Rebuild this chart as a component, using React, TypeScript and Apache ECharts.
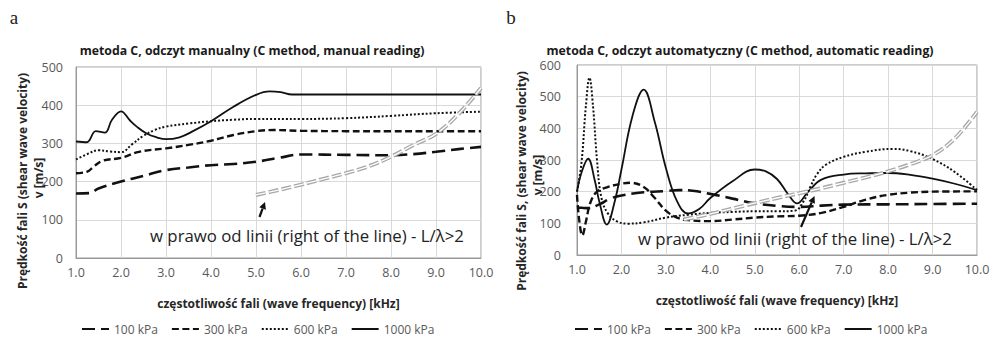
import React, { useEffect, useRef } from "react";
import * as echarts from "echarts";

const seriesNames = ["100 kPa", "300 kPa", "600 kPa", "1000 kPa"];
const xTicks = [1, 2, 3, 4, 5, 6, 7, 8, 9, 10];

// ---- chart a: metoda C, odczyt manualny ----
const aF100 = [1.0, 1.3, 1.5, 2.0, 2.5, 3.0, 3.5, 4.0, 4.5, 5.0, 5.5, 6.0, 7.0, 8.0, 8.5, 9.0, 9.5, 10.0];
const aV100 = [169, 170, 182, 200, 215, 230, 237, 243, 246, 252, 262, 271, 270, 269, 272, 278, 285, 291];

const aF300 = [1.0, 1.25, 1.4, 1.6, 2.0, 2.4, 3.0, 3.5, 4.0, 4.5, 5.0, 5.4, 6.0, 7.0, 8.0, 9.0, 10.0];
const aV300 = [222, 226, 240, 255, 262, 278, 287, 296, 307, 322, 332, 335, 333, 332, 332, 332, 332];

const aF600 = [1.0, 1.25, 1.5, 1.75, 2.0, 2.25, 2.5, 2.75, 3.0, 3.5, 4.0, 4.5, 5.0, 6.0, 7.0, 8.0, 9.0, 10.0];
const aV600 = [258, 272, 282, 279, 277, 298, 320, 335, 344, 352, 358, 362, 364, 364, 366, 372, 379, 383];

const aF1000 = [1.0, 1.24, 1.44, 1.64, 1.8, 2.0, 2.2, 2.35, 2.57, 2.79, 3.0, 3.3, 3.6, 4.0, 4.5, 5.0, 5.3, 5.55, 5.8, 6.0, 7.0, 8.0, 9.0, 10.0];
const aV1000 = [305, 303, 332, 328, 362, 384, 360, 344, 326, 316, 311, 316, 332, 358, 396, 427, 436, 434, 428, 428, 428, 428, 428, 428];

const aFLim = [5.0, 5.5, 6.0, 6.5, 7.0, 7.5, 8.0, 8.5, 9.0, 9.5, 10.0];
const aVLim = [165, 178, 192, 207, 222, 240, 265, 296, 325, 377, 445];

// ---- chart b: metoda C, odczyt automatyczny ----
const bF100 = [1.0, 1.1, 1.25, 1.5, 1.75, 2.0, 2.5, 3.0, 3.3, 3.6, 4.0, 4.5, 5.0, 5.5, 6.0, 6.5, 7.0, 8.0, 9.0, 10.0];
const bV100 = [150, 149, 148, 160, 178, 188, 198, 202, 205, 203, 193, 178, 163, 155, 152, 156, 159, 160, 161, 162];

const bF300 = [1.0, 1.05, 1.12, 1.2, 1.3, 1.45, 1.7, 2.0, 2.2, 2.5, 2.75, 3.0, 3.25, 3.5, 4.0, 4.5, 5.0, 5.5, 6.0, 6.5, 7.0, 7.5, 8.0, 8.5, 9.0, 10.0];
const bV300 = [190, 110, 62, 105, 165, 200, 215, 225, 228, 215, 180, 140, 118, 110, 107, 112, 118, 122, 124, 133, 152, 175, 190, 197, 200, 201];

const bF600 = [1.0, 1.1, 1.2, 1.28, 1.36, 1.45, 1.55, 1.7, 1.9, 2.15, 2.5, 3.0, 3.5, 4.0, 4.5, 5.0, 5.5, 5.9, 6.1, 6.25, 6.4, 6.6, 7.0, 7.5, 8.1, 8.5, 9.0, 9.5, 10.0];
const bV600 = [200, 290, 470, 560, 470, 300, 180, 130, 106, 99, 103, 118, 127, 133, 136, 138, 138, 140, 170, 215, 255, 285, 310, 326, 335, 328, 303, 262, 205];

const bF1000 = [1.0, 1.1, 1.25, 1.4, 1.5, 1.67, 1.85, 2.0, 2.25, 2.5, 2.75, 3.0, 3.25, 3.5, 3.75, 4.0, 4.5, 5.0, 5.25, 5.5, 5.75, 5.95, 6.2, 6.5, 7.0, 7.5, 8.0, 8.5, 9.0, 9.5, 10.0];
const bV1000 = [200, 260, 304, 235, 170, 96, 170, 270, 440, 522, 420, 275, 170, 131, 145, 180, 233, 270, 264, 240, 192, 163, 200, 238, 254, 258, 259, 253, 241, 225, 205];

const bFLim = [3.4, 4.0, 4.8, 5.5, 6.0, 6.5, 7.0, 7.5, 8.0, 8.5, 9.0, 9.5, 10.0];
const bVLim = [112, 130, 157, 180, 195, 211, 228, 245, 264, 287, 315, 368, 452];

const titleA = "metoda C, odczyt manualny (C method, manual reading)";
const titleB = "metoda C, odczyt automatyczny (C method, automatic reading)";
const yNameA = "Prędkość fali S (shear wave velocity)";
const yNameB = "Prędkość fali S, (shear wave velocity)";
const yUnit = "v [m/s]";
const xName = "częstotliwość fali (wave frequency) [kHz]";
const noteText = "w prawo od linii (right of the line) - L/λ>2";

const FONT = "'Open Sans', 'Noto Sans', sans-serif";

const zip = (f: number[], v: number[]) => f.map((x, i) => [x, v[i]]);

const lineStyles: any[] = [
  { type: [13, 6], width: 2.6 },
  { type: [7, 3.5], width: 2.4 },
  { type: [2, 2], width: 2 },
  { type: "solid", width: 1.8 },
];

function dataSeries(grid: number, sets: number[][][]) {
  return sets.map((d, i) => ({
    name: seriesNames[i],
    type: "line",
    xAxisIndex: grid,
    yAxisIndex: grid,
    data: d,
    smooth: 0.4,
    symbol: "none",
    lineStyle: { color: "#111", ...lineStyles[i] },
    itemStyle: { color: "#111" },
    z: 3,
  }));
}

function limitSeries(grid: number, d: number[][]) {
  return [
    {
      name: "limit",
      type: "line",
      xAxisIndex: grid,
      yAxisIndex: grid,
      data: d,
      smooth: 0.4,
      symbol: "none",
      silent: true,
      lineStyle: { color: "#a8a8a8", width: 4, type: [10, 3] },
      z: 4,
    },
    {
      name: "limit-inner",
      type: "line",
      xAxisIndex: grid,
      yAxisIndex: grid,
      data: d,
      smooth: 0.4,
      symbol: "none",
      silent: true,
      lineStyle: { color: "#ffffff", width: 1.3, type: [10, 3] },
      z: 5,
    },
  ];
}

function arrow(x0: number, y0: number, x1: number, y1: number) {
  const dx = x1 - x0;
  const dy = y1 - y0;
  const len = Math.sqrt(dx * dx + dy * dy);
  const ux = dx / len;
  const uy = dy / len;
  const bx = x1 - 7 * ux;
  const by = y1 - 7 * uy;
  const px = -uy;
  const py = ux;
  return [
    {
      type: "line",
      shape: { x1: x0, y1: y0, x2: bx, y2: by },
      style: { stroke: "#111", lineWidth: 2.2 },
      z: 10,
    },
    {
      type: "polygon",
      shape: {
        points: [
          [x1, y1],
          [bx + 3.5 * px, by + 3.5 * py],
          [bx - 3.5 * px, by - 3.5 * py],
        ],
      },
      style: { fill: "#111" },
      z: 10,
    },
  ];
}

function txt(x: number, y: number, text: string, extra: any = {}, rotation = 0) {
  return {
    type: "text",
    x,
    y,
    rotation,
    z: 10,
    style: {
      text,
      fontFamily: FONT,
      fontSize: 12,
      fill: "#1a1a1a",
      align: "center",
      verticalAlign: "middle",
      ...extra,
    },
  };
}

const axisLabel = (margin: number, fmt?: (v: number) => string) => ({
  color: "#595959",
  fontSize: 12.5,
  fontFamily: FONT,
  margin,
  formatter: fmt,
});

export default function App() {
  const ref = useRef<HTMLDivElement>(null);

  useEffect(() => {
    if (!ref.current) return;
    const chart = echarts.init(ref.current, undefined, { renderer: "svg" });

    const xAxisCommon = (grid: number) => ({
      gridIndex: grid,
      type: "value",
      min: xTicks[0],
      max: xTicks[xTicks.length - 1],
      interval: 1,
      axisLine: { show: true, lineStyle: { color: "#9a9a9a" } },
      axisTick: { show: false },
      splitLine: { show: true, lineStyle: { color: "#d9d9d9" } },
      axisLabel: axisLabel(8, (v: number) => v.toFixed(1)),
      name: xName,
      nameLocation: "middle",
      nameGap: 39,
      nameTextStyle: { fontFamily: FONT, fontSize: 12, fontWeight: "bold", color: "#262626" },
    });

    const yAxisCommon = (grid: number, max: number, margin: number) => ({
      gridIndex: grid,
      type: "value",
      min: 0,
      max,
      interval: 100,
      axisLine: { show: true, lineStyle: { color: "#9a9a9a" } },
      axisTick: { show: false },
      splitLine: { show: true, lineStyle: { color: "#d9d9d9" } },
      axisLabel: axisLabel(margin),
    });

    const legendCommon = (left: number) => ({
      data: seriesNames,
      left,
      top: 318,
      itemWidth: 27,
      itemHeight: 10,
      itemGap: 13,
      selectedMode: false,
      itemStyle: { opacity: 0 },
      textStyle: { fontFamily: FONT, fontSize: 12, color: "#595959" },
    });

    const option: any = {
      animation: false,
      backgroundColor: "#ffffff",
      grid: [
        { left: 76, top: 67, width: 405, height: 191, show: true, borderColor: "#9a9a9a", borderWidth: 1 },
        { left: 577, top: 65, width: 400, height: 190, show: true, borderColor: "#9a9a9a", borderWidth: 1 },
      ],
      xAxis: [xAxisCommon(0), xAxisCommon(1)],
      yAxis: [yAxisCommon(0, 500, 13), yAxisCommon(1, 600, 16)],
      legend: [legendCommon(76), legendCommon(569)],
      series: [
        ...dataSeries(0, [zip(aF100, aV100), zip(aF300, aV300), zip(aF600, aV600), zip(aF1000, aV1000)]),
        ...limitSeries(0, zip(aFLim, aVLim)),
        ...dataSeries(1, [zip(bF100, bV100), zip(bF300, bV300), zip(bF600, bV600), zip(bF1000, bV1000)]),
        ...limitSeries(1, zip(bFLim, bVLim)),
      ],
      graphic: [
        txt(14, 17, "a", { fontFamily: "'Liberation Serif', 'DejaVu Serif', serif", fontSize: 19, fill: "#222" }),
        txt(511, 17, "b", { fontFamily: "'Liberation Serif', 'DejaVu Serif', serif", fontSize: 19, fill: "#222" }),
        txt(252, 50, titleA, { fontWeight: "bold", fontSize: 12.3 }),
        txt(740, 50, titleB, { fontWeight: "bold", fontSize: 12.3 }),
        txt(22, 181, yNameA, { fontWeight: "bold", fill: "#262626" }, Math.PI / 2),
        txt(38, 178, yUnit, { fontWeight: "bold", fill: "#262626" }, Math.PI / 2),
        txt(521, 181, yNameB, { fontWeight: "bold", fill: "#262626" }, Math.PI / 2),
        txt(537, 175, yUnit, { fontWeight: "bold", fill: "#262626" }, Math.PI / 2),
        txt(150, 235, noteText, { fontSize: 16.8, align: "left", fill: "#222" }),
        txt(638, 238, noteText, { fontSize: 16.8, align: "left", fill: "#222" }),
        ...arrow(259.5, 217, 265, 202),
        ...arrow(801, 227, 814.5, 196),
      ],
    };

    chart.setOption(option);
    return () => chart.dispose();
  }, []);

  return (
    <div
      ref={ref}
      style={{ position: "fixed", left: 0, top: 0, width: 993, height: 339, background: "#fff" }}
    />
  );
}
